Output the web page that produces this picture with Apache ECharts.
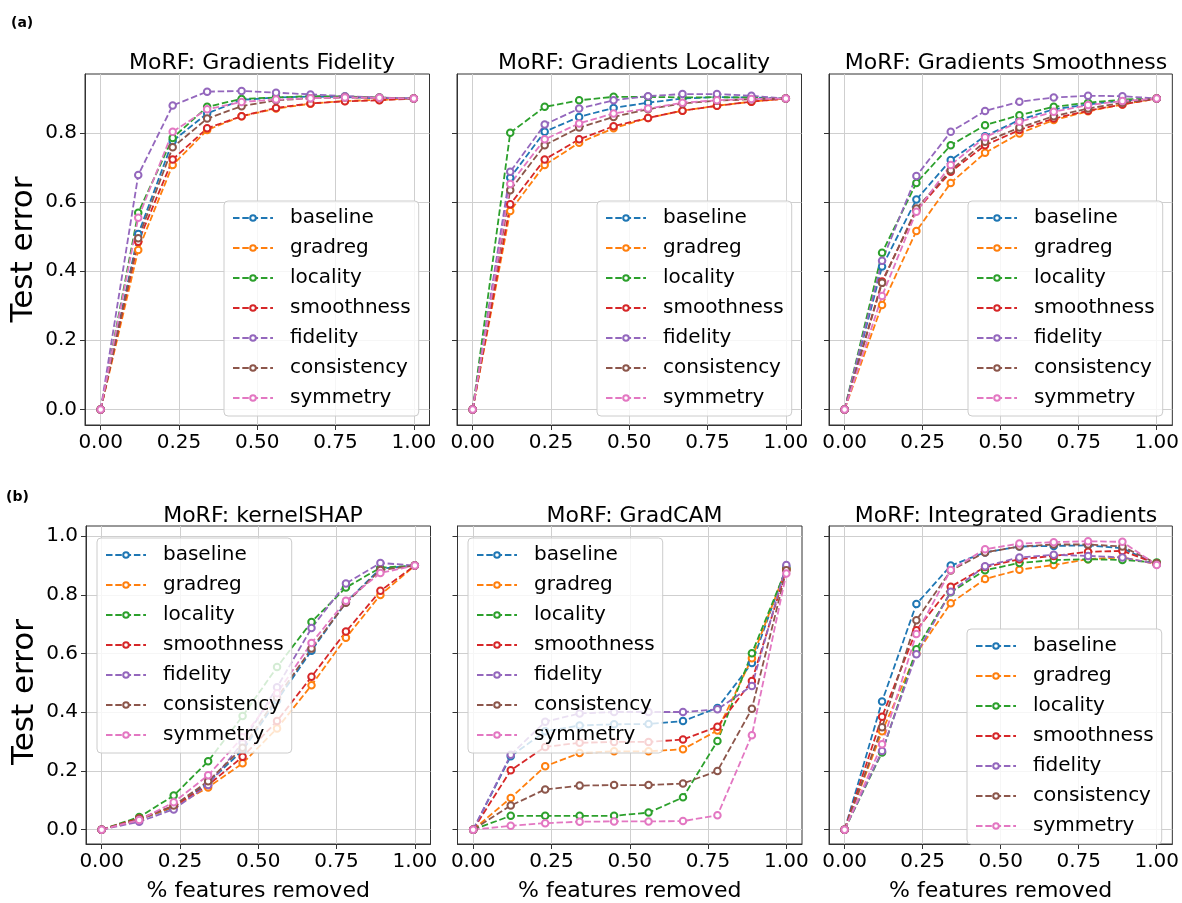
<!DOCTYPE html>
<html>
<head>
<meta charset="utf-8">
<script src="https://cdn.jsdelivr.net/npm/echarts@6/dist/echarts.min.js"></script>
<style>
  html, body { margin: 0; padding: 0; background: #fff; }
  #chart { width: 1182px; height: 903px; }
</style>
</head>
<body>
<div id="chart"></div>
<script>
// x positions (fraction of features removed)
const xs = [0, 0.12, 0.23, 0.34, 0.45, 0.56, 0.67, 0.78, 0.89, 1.0];
const methods = ['baseline', 'gradreg', 'locality', 'smoothness', 'fidelity', 'consistency', 'symmetry'];
const colors = ['#1f77b4', '#ff7f0e', '#2ca02c', '#d62728', '#9467bd', '#8c564b', '#e377c2'];
const titles = ['MoRF: Gradients Fidelity', 'MoRF: Gradients Locality', 'MoRF: Gradients Smoothness',
  'MoRF: kernelSHAP', 'MoRF: GradCAM', 'MoRF: Integrated Gradients'];
const xTicks = [0, 0.25, 0.5, 0.75, 1.0];
const yTicksTop = [0, 0.2, 0.4, 0.6, 0.8];
const yTicksBottom = [0, 0.2, 0.4, 0.6, 0.8, 1.0];

// values per panel, rows in the order of `methods`
const gradFidelity = [
  [0, 0.507, 0.776, 0.856, 0.895, 0.902, 0.905, 0.903, 0.900, 0.899],
  [0, 0.461, 0.707, 0.808, 0.848, 0.870, 0.884, 0.892, 0.895, 0.899],
  [0, 0.569, 0.785, 0.875, 0.898, 0.902, 0.906, 0.905, 0.902, 0.899],
  [0, 0.485, 0.723, 0.813, 0.848, 0.872, 0.885, 0.891, 0.894, 0.899],
  [0, 0.678, 0.879, 0.919, 0.921, 0.916, 0.911, 0.906, 0.902, 0.899],
  [0, 0.495, 0.758, 0.841, 0.877, 0.894, 0.900, 0.902, 0.901, 0.899],
  [0, 0.554, 0.803, 0.868, 0.889, 0.896, 0.900, 0.902, 0.901, 0.899]
];
const gradLocality = [
  [0, 0.670, 0.803, 0.846, 0.872, 0.887, 0.899, 0.903, 0.902, 0.899],
  [0, 0.574, 0.707, 0.771, 0.813, 0.843, 0.864, 0.878, 0.890, 0.899],
  [0, 0.800, 0.875, 0.894, 0.904, 0.904, 0.902, 0.903, 0.902, 0.899],
  [0, 0.593, 0.723, 0.781, 0.819, 0.843, 0.864, 0.878, 0.890, 0.899],
  [0, 0.687, 0.824, 0.870, 0.894, 0.906, 0.912, 0.912, 0.907, 0.899],
  [0, 0.634, 0.764, 0.815, 0.846, 0.868, 0.885, 0.893, 0.897, 0.899],
  [0, 0.652, 0.781, 0.827, 0.856, 0.870, 0.887, 0.894, 0.898, 0.899]
];
const gradSmoothness = [
  [0, 0.413, 0.607, 0.721, 0.790, 0.837, 0.868, 0.882, 0.893, 0.899],
  [0, 0.302, 0.516, 0.655, 0.742, 0.798, 0.837, 0.862, 0.882, 0.899],
  [0, 0.453, 0.655, 0.764, 0.822, 0.851, 0.875, 0.887, 0.896, 0.899],
  [0, 0.370, 0.575, 0.687, 0.764, 0.808, 0.841, 0.864, 0.882, 0.899],
  [0, 0.430, 0.675, 0.803, 0.863, 0.890, 0.902, 0.907, 0.906, 0.899],
  [0, 0.366, 0.581, 0.692, 0.774, 0.815, 0.848, 0.870, 0.887, 0.899],
  [0, 0.328, 0.572, 0.707, 0.787, 0.832, 0.861, 0.880, 0.892, 0.899]
];
const kernelShap = [
  [0, 0.035, 0.075, 0.160, 0.270, 0.440, 0.610, 0.775, 0.890, 0.900],
  [0, 0.035, 0.078, 0.144, 0.226, 0.345, 0.492, 0.654, 0.800, 0.900],
  [0, 0.043, 0.116, 0.233, 0.387, 0.554, 0.708, 0.825, 0.893, 0.900],
  [0, 0.038, 0.080, 0.152, 0.248, 0.370, 0.521, 0.675, 0.814, 0.900],
  [0, 0.027, 0.069, 0.152, 0.296, 0.485, 0.687, 0.839, 0.909, 0.900],
  [0, 0.035, 0.082, 0.165, 0.279, 0.450, 0.617, 0.773, 0.885, 0.900],
  [0, 0.033, 0.093, 0.185, 0.315, 0.465, 0.636, 0.780, 0.875, 0.900]
];
const gradCam = [
  [0, 0.250, 0.335, 0.355, 0.359, 0.360, 0.370, 0.415, 0.568, 0.895],
  [0, 0.108, 0.216, 0.261, 0.267, 0.267, 0.274, 0.338, 0.584, 0.889],
  [0, 0.047, 0.047, 0.047, 0.047, 0.058, 0.110, 0.302, 0.601, 0.889],
  [0, 0.202, 0.282, 0.296, 0.299, 0.299, 0.307, 0.351, 0.507, 0.886],
  [0, 0.255, 0.368, 0.396, 0.401, 0.401, 0.401, 0.410, 0.490, 0.902],
  [0, 0.082, 0.137, 0.150, 0.152, 0.152, 0.157, 0.200, 0.412, 0.884],
  [0, 0.013, 0.022, 0.027, 0.028, 0.028, 0.029, 0.049, 0.322, 0.873]
];
const intGrad = [
  [0, 0.437, 0.769, 0.900, 0.945, 0.965, 0.967, 0.969, 0.959, 0.905],
  [0, 0.335, 0.600, 0.772, 0.854, 0.886, 0.902, 0.922, 0.928, 0.905],
  [0, 0.263, 0.615, 0.809, 0.884, 0.909, 0.919, 0.922, 0.919, 0.911],
  [0, 0.385, 0.680, 0.828, 0.895, 0.922, 0.933, 0.947, 0.950, 0.907],
  [0, 0.268, 0.598, 0.811, 0.898, 0.928, 0.937, 0.933, 0.928, 0.905],
  [0, 0.349, 0.714, 0.883, 0.945, 0.965, 0.972, 0.972, 0.965, 0.907],
  [0, 0.291, 0.667, 0.885, 0.956, 0.975, 0.980, 0.983, 0.981, 0.902]
];
const panels = [gradFidelity, gradLocality, gradSmoothness, kernelShap, gradCam, intGrad];

// layout
const gridLefts = [85, 457, 829, 86, 457.5, 829];
const legendPos = [[224, 201], [597, 201], [968, 201], [97, 538], [468, 538], [967, 629]];
const font = 'DejaVu Sans';

const chart = echarts.init(document.getElementById('chart'));

const grid = [], xAxis = [], yAxis = [], series = [], legend = [], title = [];

panels.forEach((vals, p) => {
  const top = p < 3;
  const col = p % 3;
  grid.push({
    left: gridLefts[p], top: top ? 74 : 526, width: 344.5, height: top ? 351 : 326,
    show: true, borderColor: '#333', borderWidth: 1, backgroundColor: 'transparent'
  });
  xAxis.push({
    type: 'value', gridIndex: p, min: -0.05, max: 1.05,
    name: top ? '' : '% features removed', nameLocation: 'middle', nameGap: 36,
    nameTextStyle: { fontFamily: font, fontSize: 22, color: '#000' },
    axisLine: { show: true, onZero: false, lineStyle: { color: '#333' } },
    axisTick: { show: true, customValues: xTicks, length: 5, lineStyle: { color: '#333' } },
    axisLabel: { customValues: xTicks, margin: 8, fontFamily: font, fontSize: 20, color: '#000',
      formatter: v => v.toFixed(2) },
    splitLine: { show: true, lineStyle: { color: '#cfcfcf', width: 1 } }
  });
  const yt = top ? yTicksTop : yTicksBottom;
  yAxis.push({
    type: 'value', gridIndex: p, min: top ? -0.045 : -0.049, max: top ? 0.970 : 1.035,
    name: col === 0 ? 'Test error' : '', nameLocation: 'middle', nameGap: 46,
    nameTextStyle: { fontFamily: font, fontSize: 31, color: '#000', padding: top ? [0, 0, 0, 0] : [0, 14, 0, 0] },
    axisLine: { show: true, onZero: false, lineStyle: { color: '#333' } },
    axisTick: { show: true, customValues: yt, length: 5, lineStyle: { color: '#333' } },
    axisLabel: { show: col === 0, customValues: yt, margin: 8, fontFamily: font, fontSize: 20, color: '#000',
      formatter: v => v.toFixed(1) },
    splitLine: { show: true, lineStyle: { color: '#cfcfcf', width: 1 } }
  });
  title.push({
    text: titles[p], left: gridLefts[p] + 172, top: top ? 47 : 500.5, textAlign: 'center',
    textStyle: { fontFamily: font, fontSize: 22, fontWeight: 'normal', color: '#000' }
  });
  legend.push({
    data: methods, orient: 'vertical', left: legendPos[p][0], top: legendPos[p][1],
    itemWidth: 40, itemHeight: 7, itemGap: 10, selectedMode: false,
    padding: [7, 8, 8, 8], backgroundColor: 'rgba(255,255,255,0.8)',
    borderColor: '#cccccc', borderWidth: 1, borderRadius: 4,
    textStyle: { fontFamily: font, fontSize: 20, color: '#000', padding: [0, 0, 0, 12] }
  });
  methods.forEach((m, k) => {
    series.push({
      type: 'line', name: m, xAxisIndex: p, yAxisIndex: p,
      data: xs.map((x, i) => [x, vals[k][i]]),
      symbol: 'emptyCircle', symbolSize: 6.5,
      lineStyle: { color: colors[k], width: 1.8, type: [6.5, 2.8] },
      itemStyle: { color: colors[k], borderWidth: 1.6 },
      emphasis: { disabled: true },
      animation: false
    });
  });
});

chart.setOption({
  backgroundColor: '#fff',
  animation: false,
  title, grid, xAxis, yAxis, legend, series,
  graphic: [
    { type: 'text', left: 11, top: 16, style: { text: '(a)', font: 'bold 14px "DejaVu Sans"', fill: '#000' } },
    { type: 'text', left: 6, top: 490, style: { text: '(b)', font: 'bold 14px "DejaVu Sans"', fill: '#000' } }
  ]
});
window.addEventListener('resize', () => chart.resize());
</script>
</body>
</html>
